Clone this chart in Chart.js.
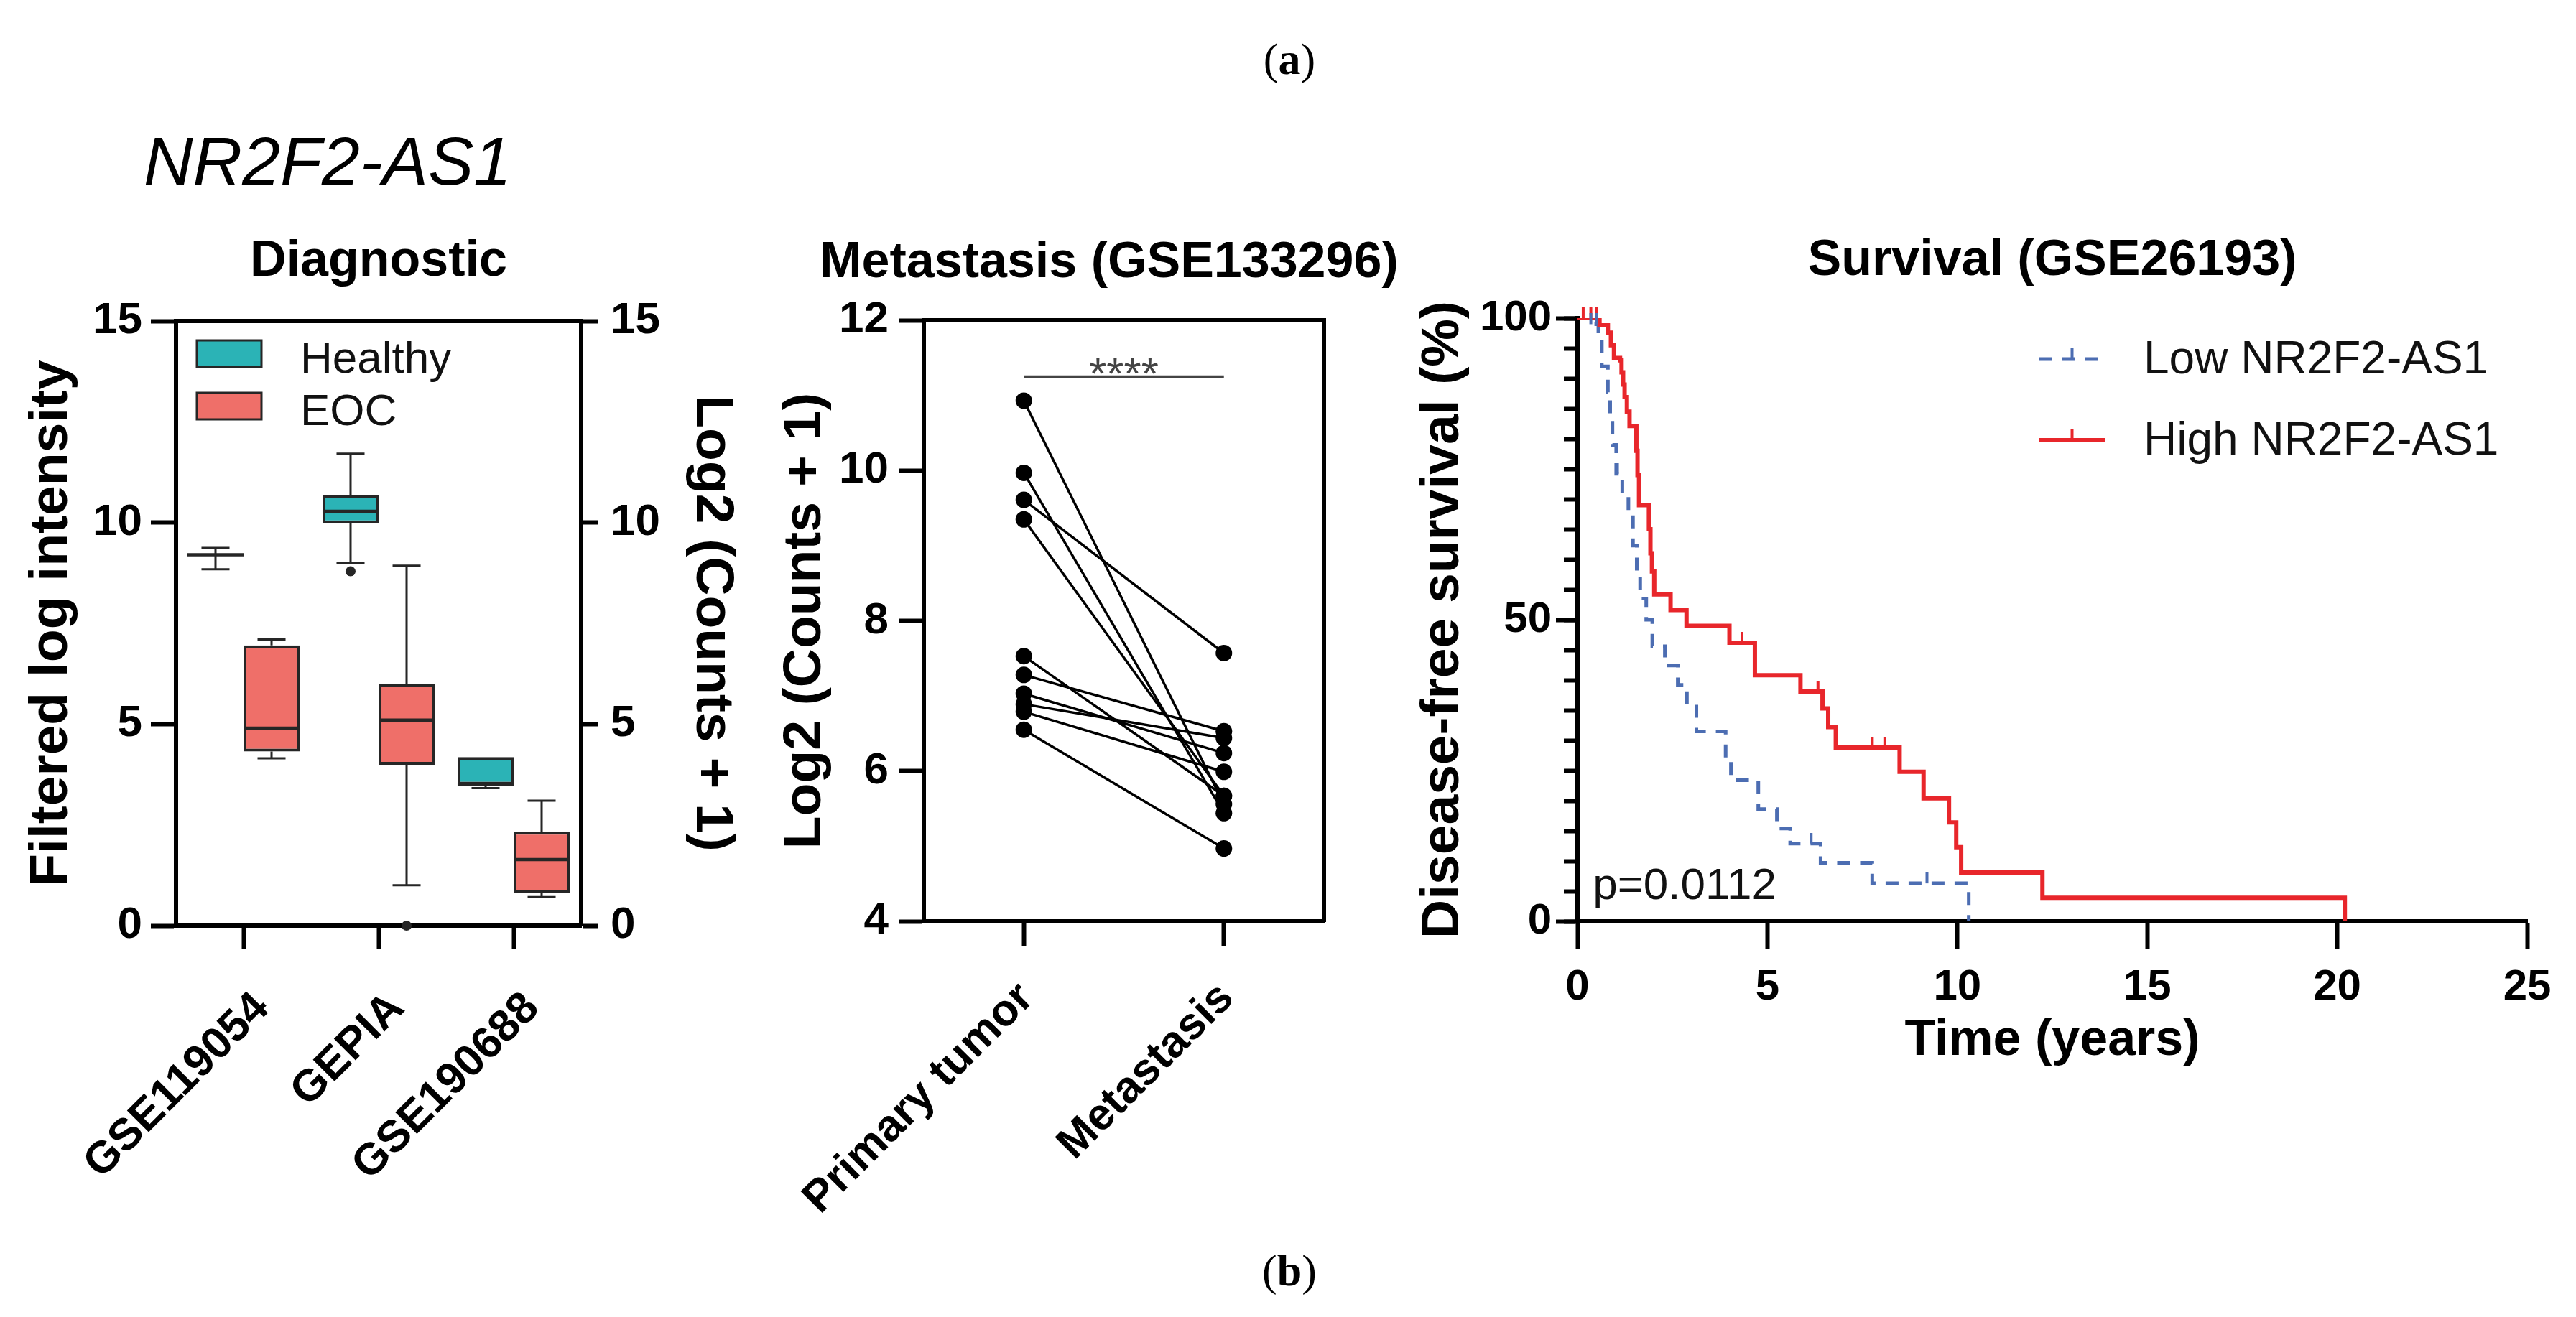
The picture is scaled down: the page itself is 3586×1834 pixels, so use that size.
<!DOCTYPE html>
<html>
<head>
<meta charset="utf-8">
<title>NR2F2-AS1</title>
<script src="https://cdn.jsdelivr.net/npm/chart.js@4.4.1/dist/chart.umd.min.js"></script>
<style>
  html, body { margin: 0; padding: 0; background: #fff; }
  #page { position: relative; width: 3586px; height: 1834px; overflow: hidden;
          font-family: 'Liberation Sans', Arial, Helvetica, sans-serif; color: #000; }
  canvas { position: absolute; }
  .fig-label { position: absolute; font-family: 'Liberation Serif', 'Times New Roman', serif;
               font-size: 62px; line-height: 1; transform: translate(-50%, -50%); white-space: nowrap; }
  #gene { position: absolute; left: 200px; top: 177px; font-size: 95px; line-height: 1; font-style: italic; white-space: nowrap; }
</style>
</head>
<body>
<div id="page">
  <div class="fig-label" style="left:1795px; top:82px;">(<b>a</b>)</div>
  <div id="gene">NR2F2-AS1</div>
  <canvas id="diag" width="1060" height="1380" style="left:0; top:280px; width:1060px; height:1380px;"></canvas>
  <canvas id="meta" width="1168" height="1440" style="left:960px; top:280px; width:1168px; height:1440px;"></canvas>
  <canvas id="surv" width="1706" height="1320" style="left:1880px; top:280px; width:1706px; height:1320px;"></canvas>
  <div class="fig-label" style="left:1795px; top:1769px;">(<b>b</b>)</div>
</div>
<script>
// ---- Diagnostic (box plots) ----
const boxCategories = ['GSE119054', 'GEPIA', 'GSE190688'];
const healthyMin = [8.84, 9.0, 3.41];
const healthyQ1 = [9.2, 9.98, 3.5];
const healthyMedian = [9.2, 10.28, 3.5];
const healthyQ3 = [9.2, 10.68, 4.18];
const healthyMax = [9.37, 11.71, 4.18];
const healthyOutliers = [[], [8.79], []];
const eocMin = [4.15, 1.0, 0.71];
const eocQ1 = [4.32, 3.99, 0.8];
const eocMedian = [4.9, 5.1, 1.64];
const eocQ3 = [6.95, 6.0, 2.33];
const eocMax = [7.1, 8.93, 3.1];
const eocOutliers = [[], [0], []];

// ---- Metastasis (paired points) ----
const pairLabels = ['Primary tumor', 'Metastasis'];
const primaryValues = [10.93, 9.97, 9.61, 9.35, 7.53, 7.28, 7.03, 6.89, 6.79, 6.55];
const metastasisValues = [5.56, 5.44, 7.57, 5.67, 5.67, 6.53, 6.24, 6.44, 5.99, 4.97];
const sigLevel = 11.25;
const sigLabel = '****';

// ---- Survival (Kaplan-Meier) ----
const lowTime = [0, 0.30, 0.55, 0.64, 0.80, 0.86, 0.92, 1.02, 1.18, 1.34, 1.46, 1.56, 1.65, 1.81, 1.97,
                 2.30, 2.64, 2.88, 3.13, 3.90, 4.04, 4.76, 5.25, 5.60, 6.40, 7.76, 10.30];
const lowSurvival = [100, 99.0, 97.2, 92.0, 87.7, 83.7, 79.0, 74.2, 70.6, 67.0, 62.3, 57.9, 53.5, 50.0, 45.6,
                     42.4, 39.2, 35.9, 31.5, 26.5, 23.4, 18.6, 15.4, 12.9, 9.7, 6.3, 0];
const highTime = [0, 0.58, 0.80, 0.88, 0.96, 1.12, 1.16, 1.20, 1.24, 1.30, 1.37, 1.55, 1.58, 1.62, 1.88, 1.92,
                  1.96, 2.02, 2.45, 2.87, 4.00, 4.67, 5.87, 6.45, 6.60, 6.80, 8.48, 9.11, 9.78, 9.97, 10.10, 12.24, 20.20];
const highSurvival = [100, 98.8, 97.6, 95.5, 93.4, 93.0, 91.0, 89.0, 86.9, 84.5, 82.1, 78.0, 74.0, 69.0, 65.0, 61.0,
                      58.0, 54.2, 51.6, 49.0, 46.2, 40.8, 38.1, 35.3, 32.2, 28.8, 24.8, 20.4, 16.4, 12.3, 8.1, 3.9, 0];
const lowCensorTime = [0.35, 0.5, 1.05, 6.15, 9.2];
const lowCensorSurvival = [99.0, 99.0, 74.2, 12.9, 6.3];
const highCensorTime = [0.15, 0.35, 0.5, 4.33, 6.33, 7.76, 8.09];
const highCensorSurvival = [100, 100, 100, 46.2, 38.1, 28.8, 28.8];
const pValueText = 'p=0.0112';

const FONT = "'Liberation Sans', Arial, Helvetica, sans-serif";
Chart.defaults.font.family = FONT;
Chart.defaults.color = '#000';
Chart.defaults.animation = false;
Chart.defaults.plugins.tooltip.enabled = false;
Chart.defaults.plugins.legend.display = false;

const INK = '#000';
const BOXLINE = '#262626';
const TEAL = '#2bb3b6';
const SALMON = '#ef6f69';
const BLUE = '#4c6db2';
const RED = '#e8262b';
const tickFont = { size: 62, weight: 'bold' };
const axisTitleFont = { size: 75, weight: 'bold', lineHeight: 1 };
const panelTitleFont = { size: 70, weight: 'bold', lineHeight: 1 };

function axisGrid(tickLength) {
  return { drawOnChartArea: false, drawTicks: true, tickLength: tickLength, tickWidth: 6, tickColor: INK };
}
const axisBorder = { display: true, color: INK, width: 6 };

// top edge of the frame
const frameTop = {
  id: 'frameTop',
  afterDraw(chart) {
    const { ctx, chartArea } = chart;
    ctx.save();
    ctx.strokeStyle = INK;
    ctx.lineWidth = 6;
    ctx.beginPath();
    ctx.moveTo(chartArea.left - 3, chartArea.top);
    ctx.lineTo(chartArea.right + 3, chartArea.top);
    ctx.stroke();
    ctx.restore();
  }
};

// whiskers, medians and outliers on top of the floating bars
const boxStats = [
  { min: healthyMin, med: healthyMedian, q1: healthyQ1, q3: healthyQ3, max: healthyMax, out: healthyOutliers },
  { min: eocMin, med: eocMedian, q1: eocQ1, q3: eocQ3, max: eocMax, out: eocOutliers }
];
const boxWhiskers = {
  id: 'boxWhiskers',
  afterDatasetsDraw(chart) {
    const { ctx } = chart;
    const y = chart.scales.y;
    boxStats.forEach((s, d) => {
      chart.getDatasetMeta(d).data.forEach((bar, i) => {
        const x = bar.x, w = bar.width;
        ctx.save();
        ctx.strokeStyle = BOXLINE;
        ctx.lineWidth = 3;
        ctx.beginPath();
        if (s.max[i] > s.q3[i]) {
          ctx.moveTo(x, y.getPixelForValue(s.q3[i]));
          ctx.lineTo(x, y.getPixelForValue(s.max[i]));
          ctx.moveTo(x - w / 4, y.getPixelForValue(s.max[i]));
          ctx.lineTo(x + w / 4, y.getPixelForValue(s.max[i]));
        }
        if (s.min[i] < s.q1[i]) {
          ctx.moveTo(x, y.getPixelForValue(s.q1[i]));
          ctx.lineTo(x, y.getPixelForValue(s.min[i]));
          ctx.moveTo(x - w / 4, y.getPixelForValue(s.min[i]));
          ctx.lineTo(x + w / 4, y.getPixelForValue(s.min[i]));
        }
        ctx.stroke();
        ctx.lineWidth = 4.5;
        ctx.beginPath();
        ctx.moveTo(x - w / 2, y.getPixelForValue(s.med[i]));
        ctx.lineTo(x + w / 2, y.getPixelForValue(s.med[i]));
        ctx.stroke();
        ctx.fillStyle = BOXLINE;
        s.out[i].forEach(v => {
          ctx.beginPath();
          ctx.arc(x, y.getPixelForValue(v), 7, 0, Math.PI * 2);
          ctx.fill();
        });
        ctx.restore();
      });
    });
  }
};

const boxLegend = {
  id: 'boxLegend',
  afterDraw(chart) {
    const { ctx, chartArea } = chart;
    chart.data.datasets.forEach((ds, i) => {
      const bx = chartArea.left + 29;
      const by = chartArea.top + 27 + i * 73;
      ctx.save();
      ctx.fillStyle = ds.backgroundColor;
      ctx.fillRect(bx, by, 90, 37);
      ctx.strokeStyle = BOXLINE;
      ctx.lineWidth = 3;
      ctx.strokeRect(bx, by, 90, 37);
      ctx.fillStyle = '#111';
      ctx.font = '62px ' + FONT;
      ctx.textBaseline = 'alphabetic';
      ctx.fillText(ds.label, bx + 144, by + 45);
      ctx.restore();
    });
  }
};

new Chart(document.getElementById('diag'), {
  type: 'bar',
  data: {
    labels: boxCategories,
    datasets: [
      { label: 'Healthy', data: healthyQ1.map((v, i) => [v, healthyQ3[i]]), backgroundColor: TEAL,
        borderColor: BOXLINE, borderWidth: 4, borderSkipped: false, categoryPercentage: 0.83, barPercentage: 1 },
      { label: 'EOC', data: eocQ1.map((v, i) => [v, eocQ3[i]]), backgroundColor: SALMON,
        borderColor: BOXLINE, borderWidth: 4, borderSkipped: false, categoryPercentage: 0.83, barPercentage: 1 }
    ]
  },
  options: {
    responsive: false,
    layout: { padding: 0 },
    plugins: {
      title: { display: true, text: 'Diagnostic', fullSize: false, font: panelTitleFont, color: INK,
               padding: { top: 50, bottom: 47 } }
    },
    scales: {
      x: {
        grid: Object.assign(axisGrid(33), { offset: false }),
        border: axisBorder,
        ticks: { font: tickFont, color: INK, minRotation: 45, maxRotation: 45, autoSkip: false,
                 padding: 46, labelOffset: 26 },
        afterFit(s) { s.height = 371; }
      },
      y: {
        position: 'left', min: 0, max: 15,
        ticks: { stepSize: 5, font: tickFont, color: INK, padding: 12 },
        grid: axisGrid(35), border: axisBorder,
        title: { display: true, text: 'Filtered log intensity', font: axisTitleFont, color: INK, padding: { top: 35, bottom: 0 } },
        afterFit(s) { s.width = 245; }
      },
      y2: {
        position: 'right', min: 0, max: 15,
        ticks: { stepSize: 5, font: tickFont, color: INK, padding: 17 },
        grid: axisGrid(24), border: axisBorder,
        title: { display: true, text: 'Log2 (Counts + 1)', font: axisTitleFont, color: INK, padding: { top: 32, bottom: 0 } },
        afterFit(s) { s.width = 251; }
      }
    }
  },
  plugins: [boxWhiskers, boxLegend, frameTop]
});

// ---- paired metastasis chart ----
const sigBar = {
  id: 'sigBar',
  afterDatasetsDraw(chart) {
    const { ctx, scales: { x, y } } = chart;
    const x0 = x.getPixelForValue(0), x1 = x.getPixelForValue(1);
    const yy = y.getPixelForValue(sigLevel);
    ctx.save();
    ctx.strokeStyle = '#444';
    ctx.lineWidth = 3.5;
    ctx.beginPath();
    ctx.moveTo(x0, yy);
    ctx.lineTo(x1, yy);
    ctx.stroke();
    ctx.fillStyle = '#444';
    ctx.font = '62px ' + FONT;
    ctx.textAlign = 'center';
    ctx.textBaseline = 'alphabetic';
    ctx.fillText(sigLabel, (x0 + x1) / 2, yy + 17);
    ctx.restore();
  }
};

new Chart(document.getElementById('meta'), {
  type: 'line',
  data: {
    labels: pairLabels,
    datasets: primaryValues.map((p, i) => ({
      data: [p, metastasisValues[i]],
      borderColor: INK, backgroundColor: INK, borderWidth: 3.5,
      pointRadius: 11.5, pointBorderWidth: 0
    }))
  },
  options: {
    responsive: false,
    layout: { padding: 0 },
    plugins: {
      title: { display: true, text: 'Metastasis (GSE133296)', font: panelTitleFont, color: INK,
               padding: { top: 52, bottom: 44 } }
    },
    scales: {
      x: {
        offset: true,
        grid: Object.assign(axisGrid(35), { offset: false }),
        border: axisBorder,
        ticks: { font: tickFont, color: INK, minRotation: 45, maxRotation: 45, autoSkip: false,
                 padding: 36, labelOffset: 4 },
        afterFit(s) { s.height = 437; }
      },
      y: {
        position: 'left', min: 4, max: 12,
        ticks: { stepSize: 2, font: tickFont, color: INK, padding: 14 },
        grid: axisGrid(35), border: axisBorder,
        title: { display: true, text: 'Log2 (Counts + 1)', font: axisTitleFont, color: INK, padding: { top: 124, bottom: 0 } },
        afterFit(s) { s.width = 326; }
      },
      yFrame: {
        position: 'right', min: 4, max: 12,
        ticks: { display: false },
        grid: { drawOnChartArea: false, drawTicks: false },
        border: axisBorder,
        afterFit(s) { s.width = 285; }
      }
    }
  },
  plugins: [sigBar, frameTop]
});

// ---- Kaplan-Meier chart ----
function censorMark(color, h) {
  const c = document.createElement('canvas');
  c.width = 6;
  c.height = h * 2;
  const g = c.getContext('2d');
  g.fillStyle = color;
  g.fillRect(1, 0, 4, h);
  return c;
}
const toXY = (ts, ss) => ts.map((t, i) => ({ x: t, y: ss[i] }));

const kmLegend = {
  id: 'kmLegend',
  afterDraw(chart) {
    const { ctx, chartArea } = chart;
    [0, 1].forEach(i => {
      const ds = chart.data.datasets[i];
      const y = chartArea.top + 57 + i * 113;
      const x0 = chartArea.left + 643, x1 = chartArea.left + 734;
      ctx.save();
      ctx.strokeStyle = ds.borderColor;
      ctx.lineWidth = ds.borderWidth;
      ctx.setLineDash(ds.borderDash || []);
      ctx.beginPath();
      ctx.moveTo(x0, y);
      ctx.lineTo(x1, y);
      ctx.stroke();
      ctx.setLineDash([]);
      ctx.lineWidth = 4;
      ctx.beginPath();
      ctx.moveTo((x0 + x1) / 2, y);
      ctx.lineTo((x0 + x1) / 2, y - 16);
      ctx.stroke();
      ctx.fillStyle = '#111';
      ctx.font = '64px ' + FONT;
      ctx.textBaseline = 'middle';
      ctx.fillText(ds.label, chartArea.left + 788, y + 2);
      ctx.restore();
    });
  }
};

const pValue = {
  id: 'pValue',
  afterDraw(chart) {
    const { ctx, scales: { x, y } } = chart;
    ctx.save();
    ctx.fillStyle = '#111';
    ctx.font = '62px ' + FONT;
    ctx.textBaseline = 'alphabetic';
    ctx.fillText(pValueText, x.getPixelForValue(0.4), y.getPixelForValue(3.7));
    ctx.restore();
  }
};

new Chart(document.getElementById('surv'), {
  type: 'line',
  data: {
    datasets: [
      { label: 'Low NR2F2-AS1', data: toXY(lowTime, lowSurvival), stepped: 'before',
        borderColor: BLUE, borderWidth: 5, borderDash: [18, 14], pointRadius: 0, order: 2 },
      { label: 'High NR2F2-AS1', data: toXY(highTime, highSurvival), stepped: 'before',
        borderColor: RED, borderWidth: 6, pointRadius: 0, order: 1 },
      { label: 'Low censored', data: toXY(lowCensorTime, lowCensorSurvival), showLine: false,
        pointStyle: censorMark(BLUE, 15), pointRadius: 8, clip: false, order: 0 },
      { label: 'High censored', data: toXY(highCensorTime, highCensorSurvival), showLine: false,
        pointStyle: censorMark(RED, 15), pointRadius: 8, clip: false, order: 0 }
    ]
  },
  options: {
    responsive: false,
    layout: { padding: { left: 0, right: 68, top: 0, bottom: 0 } },
    plugins: {
      title: { display: true, text: 'Survival (GSE26193)', fullSize: false, font: panelTitleFont, color: INK,
               padding: { top: 49, bottom: 44 } }
    },
    scales: {
      x: {
        type: 'linear', min: 0, max: 25,
        ticks: { stepSize: 5, font: { size: 60, weight: 'bold' }, color: INK, padding: 18 },
        grid: axisGrid(38), border: axisBorder,
        title: { display: true, text: 'Time (years)', font: { size: 70, weight: 'bold', lineHeight: 1 }, color: INK,
                 padding: { top: 0, bottom: 115 } },
        afterFit(s) { s.height = 317; }
      },
      y: {
        position: 'left', min: 0, max: 100, weight: 10,
        ticks: { stepSize: 50, font: { size: 60, weight: 'bold' }, color: INK, padding: 6 },
        grid: axisGrid(30), border: axisBorder,
        title: { display: true, text: 'Disease-free survival (%)', font: axisTitleFont, color: INK, padding: { top: 92, bottom: 0 } },
        afterFit(s) { s.width = 316; }
      },
      yMinor: {
        position: 'left', min: 0, max: 100, weight: 0,
        ticks: { stepSize: 5, display: false },
        grid: axisGrid(19), border: { display: false },
        afterFit(s) { s.width = 0; }
      }
    }
  },
  plugins: [kmLegend, pValue]
});
</script>
</body>
</html>
